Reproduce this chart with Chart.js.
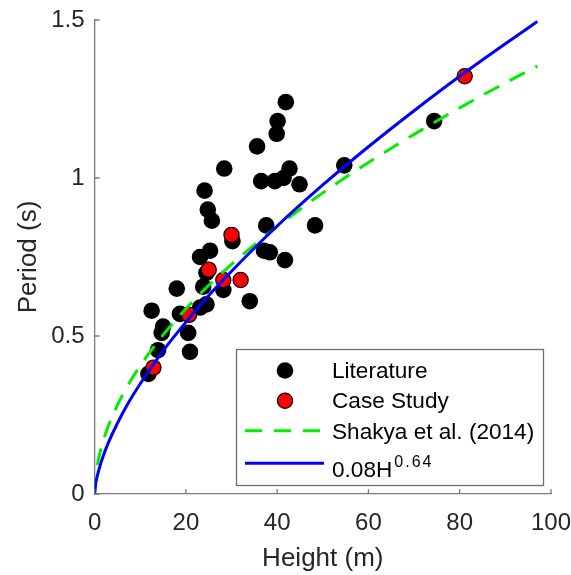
<!DOCTYPE html>
<html>
<head>
<meta charset="utf-8">
<script src="https://cdn.jsdelivr.net/npm/chart.js@4/dist/chart.umd.min.js"></script>
<style>
  html, body { margin: 0; padding: 0; background: #fff; }
  #wrap { width: 571px; height: 575px; }
</style>
</head>
<body>
<div id="wrap"><canvas id="c" width="571" height="575"></canvas></div>
<script>
// ---- Data ----
const literatureX = [11.8, 13.9, 12.5, 15.0, 14.7, 18.0, 18.7, 20.5, 20.9, 23.1, 24.5, 23.8, 24.5, 23.1, 25.3, 28.2, 34.0, 30.2, 24.1, 24.8, 25.7, 28.4, 35.6, 36.5, 39.5, 41.4, 42.7, 44.9, 39.9, 40.1, 41.9, 37.6, 48.3, 37.1, 38.4, 41.7, 54.7, 74.4];
const literatureY = [0.38, 0.455, 0.58, 0.53, 0.51, 0.65, 0.57, 0.51, 0.45, 0.59, 0.60, 0.656, 0.70, 0.75, 0.77, 0.646, 0.61, 0.80, 0.96, 0.90, 0.865, 1.03, 1.10, 0.99, 0.99, 1.00, 1.03, 0.98, 1.14, 1.18, 1.24, 0.85, 0.85, 0.77, 0.765, 0.74, 1.04, 1.18];

const caseX = [12.9, 20.7, 25.0, 28.2, 32.0, 30.0, 81.1];
const caseY = [0.40, 0.567, 0.71, 0.677, 0.677, 0.82, 1.322];

const curveX  = [0, 0.25, 0.5, 1, 2, 3, 5, 7.5, 10, 15, 20, 25, 30, 40, 50, 60, 70, 80, 90, 97];
const shakyaY = [0, 0.058, 0.083, 0.120, 0.173, 0.215, 0.281, 0.349, 0.406, 0.503, 0.586, 0.660, 0.727, 0.846, 0.953, 1.049, 1.138, 1.222, 1.301, 1.354];
const fitY    = [0, 0.033, 0.051, 0.080, 0.125, 0.162, 0.224, 0.291, 0.349, 0.453, 0.544, 0.628, 0.705, 0.848, 0.978, 1.099, 1.213, 1.322, 1.425, 1.495];

const xTickValues = [0, 20, 40, 60, 80, 100];
const xTickLabels = ['0', '20', '40', '60', '80', '100'];
const yTickValues = [0, 0.5, 1, 1.5];
const yTickLabels = ['0', '0.5', '1', '1.5'];
const legendLabels = ['Literature', 'Case Study', 'Shakya et al. (2014)', '0.08H'];
const legendSup = '0.64';

const zip = (xs, ys) => xs.map((x, i) => ({ x: x, y: ys[i] }));
const labelFor = (vals, labels) => (v) => {
  const i = vals.findIndex(t => Math.abs(t - v) < 1e-9);
  return i >= 0 ? labels[i] : '';
};

const FONT = '"Liberation Sans", Arial, Helvetica, sans-serif';
const AXIS_COLOR = '#7a7a7a';
const TEXT_COLOR = '#262626';

const bgPlugin = {
  id: 'bg',
  beforeDraw(chart) {
    const ctx = chart.ctx;
    ctx.save();
    ctx.fillStyle = '#fff';
    ctx.fillRect(0, 0, chart.width, chart.height);
    ctx.restore();
  }
};

// inward tick marks (MATLAB style)
const tickPlugin = {
  id: 'inTicks',
  afterDatasetsDraw(chart) {
    const ctx = chart.ctx;
    const xs = chart.scales.x, ys = chart.scales.y;
    const area = chart.chartArea;
    ctx.save();
    ctx.strokeStyle = AXIS_COLOR;
    ctx.lineWidth = 1.3;
    ctx.beginPath();
    xs.ticks.forEach(t => {
      const p = xs.getPixelForValue(t.value);
      ctx.moveTo(p, area.bottom);
      ctx.lineTo(p, area.bottom - 5);
    });
    ys.ticks.forEach(t => {
      const p = ys.getPixelForValue(t.value);
      ctx.moveTo(area.left, p);
      ctx.lineTo(area.left + 5, p);
    });
    ctx.stroke();
    ctx.restore();
  }
};

const legendPlugin = {
  id: 'boxLegend',
  afterDraw(chart) {
    const ctx = chart.ctx;
    const ds = chart.data.datasets;
    ctx.save();
    // box
    ctx.fillStyle = '#fff';
    ctx.fillRect(236.5, 349.5, 307, 136);
    ctx.strokeStyle = '#6e6e6e';
    ctx.lineWidth = 1.3;
    ctx.strokeRect(236.5, 349.5, 307, 136);

    const mx = 285;
    // Literature marker
    ctx.beginPath();
    ctx.arc(mx, 370.5, ds[0].pointRadius, 0, Math.PI * 2);
    ctx.fillStyle = ds[0].backgroundColor;
    ctx.fill();
    // Case study marker
    ctx.beginPath();
    ctx.arc(mx, 400.8, ds[1].pointRadius, 0, Math.PI * 2);
    ctx.fillStyle = ds[1].backgroundColor;
    ctx.fill();
    ctx.lineWidth = ds[1].borderWidth;
    ctx.strokeStyle = ds[1].borderColor;
    ctx.stroke();
    // Shakya line
    ctx.beginPath();
    ctx.setLineDash(ds[2].borderDash);
    ctx.strokeStyle = ds[2].borderColor;
    ctx.lineWidth = ds[2].borderWidth;
    ctx.moveTo(245, 430.7);
    ctx.lineTo(325, 430.7);
    ctx.stroke();
    ctx.setLineDash([]);
    // fit line
    ctx.beginPath();
    ctx.strokeStyle = ds[3].borderColor;
    ctx.lineWidth = ds[3].borderWidth;
    ctx.moveTo(245, 463.3);
    ctx.lineTo(324, 463.3);
    ctx.stroke();

    // texts
    ctx.fillStyle = '#000';
    ctx.textAlign = 'left';
    ctx.textBaseline = 'alphabetic';
    ctx.font = '22.6px ' + FONT;
    const tx = 332;
    ctx.fillText(legendLabels[0], tx, 377.8);
    ctx.fillText(legendLabels[1], tx, 407.8);
    ctx.fillText(legendLabels[2], tx, 439);
    ctx.fillText(legendLabels[3], tx, 476.7);
    let sx = tx + ctx.measureText(legendLabels[3]).width + 2;
    ctx.font = '16px ' + FONT;
    for (const ch of legendSup) {
      ctx.fillText(ch, sx, 466.5);
      sx += ctx.measureText(ch).width + 2;
    }
    ctx.restore();
  }
};

new Chart(document.getElementById('c'), {
  type: 'scatter',
  data: {
    datasets: [
      {
        label: legendLabels[0],
        data: zip(literatureX, literatureY),
        backgroundColor: '#000000',
        borderColor: '#000000',
        borderWidth: 0,
        pointRadius: 8.3,
        pointHoverRadius: 8.3,
        order: 3
      },
      {
        label: legendLabels[1],
        data: zip(caseX, caseY),
        backgroundColor: '#ff0000',
        borderColor: '#000000',
        borderWidth: 1.2,
        pointRadius: 7.6,
        pointHoverRadius: 7.6,
        order: 2
      },
      {
        label: legendLabels[2],
        data: zip(curveX, shakyaY),
        showLine: true,
        pointRadius: 0,
        borderColor: '#00ee00',
        backgroundColor: '#00ee00',
        borderWidth: 3,
        borderDash: [17, 12],
        cubicInterpolationMode: 'monotone',
        order: 1
      },
      {
        label: legendLabels[3] + legendSup,
        data: zip(curveX, fitY),
        showLine: true,
        pointRadius: 0,
        borderColor: '#0000ff',
        backgroundColor: '#0000ff',
        borderWidth: 3,
        cubicInterpolationMode: 'monotone',
        order: 0
      }
    ]
  },
  options: {
    responsive: false,
    devicePixelRatio: 1,
    animation: false,
    layout: { padding: { left: 0, right: 20, top: 20, bottom: 0 } },
    plugins: {
      legend: { display: false },
      tooltip: { enabled: false },
      title: { display: false }
    },
    scales: {
      x: {
        type: 'linear',
        min: 0,
        max: 100,
        afterBuildTicks(s) { s.ticks = xTickValues.map(v => ({ value: v })); },
        grid: { display: false, drawTicks: false },
        border: { display: true, color: AXIS_COLOR, width: 1.3 },
        ticks: {
          padding: 15,
          color: TEXT_COLOR,
          font: { family: FONT, size: 24 },
          maxRotation: 0,
          callback: labelFor(xTickValues, xTickLabels)
        },
        title: {
          display: true,
          text: 'Height (m)',
          color: TEXT_COLOR,
          font: { family: FONT, size: 26 },
          padding: { top: 0, bottom: 0.6 }
        },
        afterFit(s) {
          s.height = 81;
          s.paddingLeft = 0; s.paddingRight = 0;
        }
      },
      y: {
        type: 'linear',
        min: 0,
        max: 1.5,
        afterBuildTicks(s) { s.ticks = yTickValues.map(v => ({ value: v })); },
        grid: { display: false, drawTicks: false },
        border: { display: true, color: AXIS_COLOR, width: 1.3 },
        ticks: {
          padding: 10,
          color: TEXT_COLOR,
          font: { family: FONT, size: 24 },
          callback: labelFor(yTickValues, yTickLabels)
        },
        title: {
          display: true,
          text: 'Period (s)',
          color: TEXT_COLOR,
          font: { family: FONT, size: 26 },
          padding: { top: 13.4, bottom: 0 }
        },
        afterFit(s) {
          s.width = 94.6;
          s.paddingTop = 0; s.paddingBottom = 0;
        }
      }
    }
  },
  plugins: [bgPlugin, tickPlugin, legendPlugin]
});
</script>
</body>
</html>
